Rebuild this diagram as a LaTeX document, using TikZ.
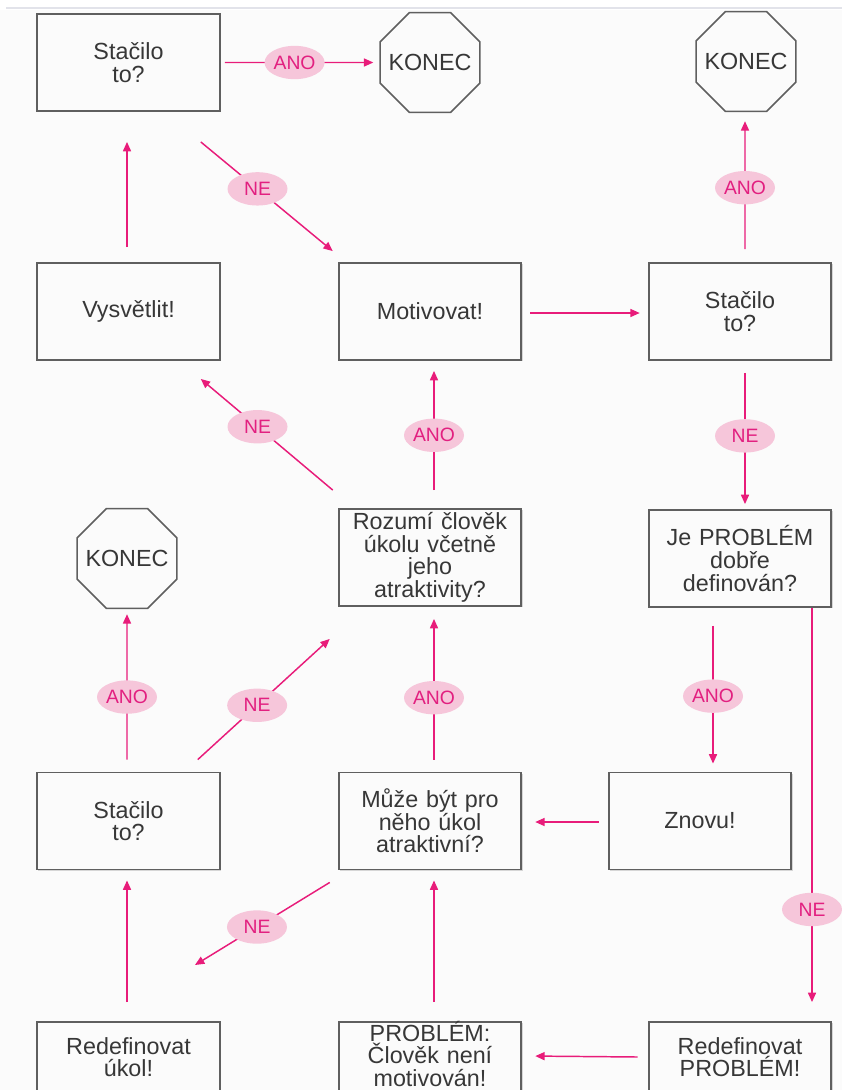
\documentclass[tikz,border=0pt]{standalone}
\usepackage{fontspec}
\setmainfont{Liberation Sans}
\usetikzlibrary{shapes.geometric,arrows.meta,calc,shadows}
\definecolor{pk}{RGB}{232,28,122}
\definecolor{pkfill}{RGB}{246,198,218}
\definecolor{pktext}{RGB}{226,32,128}
\definecolor{bx}{RGB}{95,95,95}
\definecolor{tx}{RGB}{55,55,55}
\definecolor{bg}{RGB}{251,251,251}
\definecolor{topline}{RGB}{226,227,234}
\newcommand{\octtext}[1]{\makebox[30pt]{#1}}
\begin{document}
\begin{tikzpicture}[x=0.75pt,y=-0.75pt,
  box/.style={draw=bx, line width=1.4pt, fill=bg, minimum width=137pt, minimum height=72.75pt,
    text width=132pt, align=center, inner sep=0pt, text=tx,
    font=\fontsize{17.5}{16.9}\selectfont,
    drop shadow={shadow xshift=0.9pt, shadow yshift=-0.9pt, fill=black!30}},
  lowbox/.style={box, minimum height=52.5pt},
  octa/.style={regular polygon, regular polygon sides=8, draw=bx, line width=1.2pt, fill=bg,
    minimum size=81pt, inner sep=0pt, text=tx, font=\fontsize{17.5}{16.9}\selectfont},
  lab/.style={ellipse, fill=pkfill, text=pktext, minimum width=45pt, minimum height=25pt,
    inner sep=0pt, font=\fontsize{14.5}{14.5}\selectfont},
  arr/.style={draw=pk, line width=1.1pt, -{Triangle[length=7pt,width=6pt]}}
]
\useasboundingbox (0,0) rectangle (842,1090);
\clip (0,0) rectangle (842,1090);
\fill[white] (0,0) rectangle (842,1090);
\fill[bg] (0,9.5) rectangle (842,1090);
\draw[topline, line width=2.2pt] (6,8) -- (842,8);

% nodes
\node[box] (A) at (128.5,62.5) {Stačilo\\to?};
\node[octa] (K1) at (430,62.5) {\octtext{KONEC}};
\node[octa] (K2) at (746,61.5) {\octtext{KONEC}};
\node[box] (V) at (128.5,311.5) {Vysvětlit!};
\node[box] (M) at (430,311.5) {Motivovat!};
\node[box] (S2) at (740,311.5) {Stačilo\\to?};
\node[octa] (K3) at (127,558.5) {\octtext{KONEC}};
\node[box] (R) at (430,557.5) {Rozumí člověk\\úkolu včetně\\jeho\\atraktivity?};
\node[box] (J) at (740,558.5) {Je PROBLÉM\\dobře\\definován?};
\node[box] (S3) at (128.5,821) {Stačilo\\to?};
\node[box] (MB) at (430,821) {Může být pro\\něho úkol\\atraktivní?};
\node[box] (Z) at (700,821) {Znovu!};
\node[lowbox] (RU) at (128.5,1057) {Redefinovat\\úkol!};
\node[box, minimum height=60pt, text height=13pt, text depth=44pt] (P) at (430,1062) {PROBLÉM:\\Člověk není\\motivován!};
\node[lowbox] (RP) at (740,1057) {Redefinovat\\PROBLÉM!};
\coordinate (free) at (195,965);

% connectors
\draw[arr] ($(A.east)+(4,0)$) -- node[lab,pos=0.47] (l1) {ANO} ($(K1.west)+(-6,0)$);
\draw[arr] ($(A.south east)+(-20,30)$) -- node[lab,pos=0.43] (l2) {NE} ($(M.north west)+(-5,-11)$);
\draw[arr] ($(V.north)+(-1.5,-15)$) -- ($(A.south)+(-1.5,30)$);
\draw[arr] ($(M.east)+(8,1.5)$) -- ($(S2.west)+(-8,1.5)$);
\draw[arr] ($(S2.north)+(5,-13)$) -- node[lab,pos=0.48] (l5) {ANO} ($(K2.south)+(-1,9)$);
\draw[arr] ($(S2.south)+(5,12)$) -- node[lab,pos=0.48] (l6) {NE} ($(J.north)+(5,-5)$);
\draw[arr] ($(R.north west)+(-5,-18)$) -- node[lab,pos=0.57] (l7) {NE} ($(V.south east)+(-20,18)$);
\draw[arr] ($(R.north)+(4,-18)$) -- node[lab,pos=0.46] (l8) {ANO} ($(M.south)+(4,10)$);
\draw[arr] ($(J.south)+(-27,18)$) -- node[lab,pos=0.51] (l9) {ANO} ($(Z.north)+(13,-8)$);
\draw[arr] ($(J.south)+(72,0)$) -- node[lab,pos=0.765] (l10) {NE} ($(RP.north)+(72,-19)$);
\draw[arr] ($(S3.north)+(-1.5,-12)$) -- node[lab,pos=0.43] (l11) {ANO} ($(K3.south)+(0,5)$);
\draw[arr] ($(S3.north east)+(-23,-12)$) -- node[lab,pos=0.45] (l12) {NE} ($(R.south west)+(-8,32)$);
\draw[arr] ($(MB.north)+(4,-12)$) -- node[lab,pos=0.44] (l13) {ANO} ($(R.south)+(4,12)$);
\draw[arr] ($(Z.west)+(-9,1)$) -- ($(MB.east)+(13,1)$);
\draw[arr] ($(RP.west)+(-10,0)$) -- ($(P.north east)+(13,35)$);
\draw[arr] ($(P.north)+(4,-19)$) -- ($(MB.south)+(4,10)$);
\draw[arr] ($(RU.north)+(-1.5,-19)$) -- ($(S3.south)+(-1.5,10)$);
\draw[arr] ($(MB.south west)+(-8,12)$) -- node[lab,pos=0.54] (l18) {NE} (free);
\end{tikzpicture}
\end{document}
